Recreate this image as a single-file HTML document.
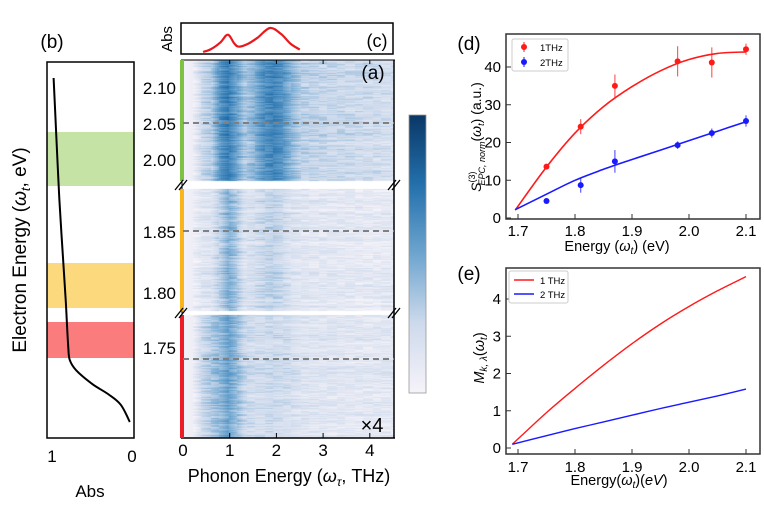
<!DOCTYPE html>
<html><head><meta charset="utf-8">
<style>
html,body{margin:0;padding:0;background:#fff;}
#wrap{position:relative;width:764px;height:515px;overflow:hidden;font-family:"Liberation Sans",sans-serif;}
svg{position:absolute;left:0;top:0;}
canvas{position:absolute;}
</style></head>
<body>
<div id="wrap">
<canvas id="heat" width="211" height="378" style="left:183px;top:60px;"></canvas>
<svg id="fig" width="764" height="515" viewBox="0 0 764 515" xmlns="http://www.w3.org/2000/svg"></svg>
</div>
<script>
// ---- Panel (d) data ----
const dEnergy1 = [1.75, 1.81, 1.87, 1.98, 2.04, 2.10];
const dVal1 = [13.6, 24.2, 35.0, 41.5, 41.2, 44.7];
const dErr1 = [0.5, 2.0, 3.0, 4.0, 4.0, 1.5];
const dVal2 = [4.5, 8.7, 15.0, 19.3, 22.5, 25.7];
const dErr2 = [0.3, 2.0, 3.0, 1.0, 1.2, 1.5];
const dFitX = [1.695, 1.75, 1.8, 1.85, 1.9, 1.95, 2.0, 2.05, 2.1];
const dFit1 = [2.1, 13.5, 22.5, 29.5, 34.8, 39.0, 42.0, 43.6, 44.0];
const dFit2 = [2.2, 6.3, 10.0, 12.9, 15.5, 18.0, 20.5, 23.0, 25.5];
const dTicksX = [1.7, 1.8, 1.9, 2.0, 2.1];
const dTicksY = [0, 10, 20, 30, 40];
// ---- Panel (e) data ----
const eX = [1.69, 1.75, 1.8, 1.85, 1.9, 1.95, 2.0, 2.05, 2.1];
const eRed = [0.1, 0.95, 1.6, 2.22, 2.8, 3.33, 3.8, 4.22, 4.6];
const eBlue = [0.1, 0.33, 0.52, 0.7, 0.88, 1.06, 1.23, 1.4, 1.58];
const eTicksY = [0, 1, 2, 3, 4];
// ---- Panel (c) absorption ----
const absTHz = [0.43, 0.6, 0.8, 0.96, 1.1, 1.2, 1.4, 1.6, 1.86, 2.1, 2.3, 2.5];
const absVal = [0.0, 0.12, 0.4, 0.72, 0.35, 0.22, 0.35, 0.6, 1.0, 0.75, 0.35, 0.1];
// ---- Panel (a) heatmap column profiles (THz grid) ----
const hGrid = [0, 0.2, 0.4, 0.6, 0.8, 0.95, 1.1, 1.3, 1.5, 1.7, 1.9, 2.1, 2.3, 2.5, 3.0, 3.5, 4.0, 4.5];
const hSeg1 = [0.02, 0.05, 0.25, 0.32, 0.6, 0.68, 0.55, 0.33, 0.42, 0.58, 0.65, 0.58, 0.42, 0.3, 0.26, 0.24, 0.22, 0.2];
const hSeg2 = [0.02, 0.05, 0.14, 0.16, 0.32, 0.45, 0.36, 0.17, 0.2, 0.25, 0.28, 0.24, 0.17, 0.14, 0.12, 0.11, 0.1, 0.1];
const hSeg3 = [0.02, 0.05, 0.26, 0.34, 0.42, 0.52, 0.42, 0.25, 0.22, 0.22, 0.24, 0.22, 0.2, 0.16, 0.14, 0.13, 0.12, 0.12];
const yLabels = ["2.10", "2.05", "2.00", "1.85", "1.80", "1.75"];
const xLabelsA = [0, 1, 2, 3, 4];
// ---- Panel (b) absorption curve ----
const bAbs = [0.98, 0.95, 0.91, 0.87, 0.83, 0.8, 0.78, 0.7, 0.5, 0.3, 0.15, 0.04];
const bPos = [0.0, 0.15, 0.35, 0.5, 0.65, 0.78, 0.82, 0.85, 0.89, 0.92, 0.95, 1.0];

const svg = document.getElementById('fig');
const NS = 'http://www.w3.org/2000/svg';
function el(tag, attrs, parent) {
  const e = document.createElementNS(NS, tag);
  for (const k in attrs) e.setAttribute(k, attrs[k]);
  (parent || svg).appendChild(e);
  return e;
}
function txt(x, y, s, size, anchor, parent, extra) {
  const t = el('text', Object.assign({x: x, y: y, 'font-size': size, 'text-anchor': anchor || 'middle', fill: '#000', 'font-family': 'Liberation Sans, DejaVu Sans, sans-serif'}, extra || {}), parent);
  t.textContent = s;
  return t;
}
function smooth(pts) {
  let d = 'M' + pts[0][0].toFixed(1) + ',' + pts[0][1].toFixed(1);
  for (let i = 0; i < pts.length - 1; i++) {
    const p0 = pts[i - 1] || pts[i], p1 = pts[i], p2 = pts[i + 1], p3 = pts[i + 2] || p2;
    const c1 = [p1[0] + (p2[0] - p0[0]) / 6, p1[1] + (p2[1] - p0[1]) / 6];
    const c2 = [p2[0] - (p3[0] - p1[0]) / 6, p2[1] - (p3[1] - p1[1]) / 6];
    d += 'C' + c1[0].toFixed(1) + ',' + c1[1].toFixed(1) + ' ' + c2[0].toFixed(1) + ',' + c2[1].toFixed(1) + ' ' + p2[0].toFixed(1) + ',' + p2[1].toFixed(1);
  }
  return d;
}
function poly(xs, ys, fx, fy) { return smooth(xs.map((x, i) => [fx(x), fy(ys[i])])); }

// ================= Panel (b) =================
const gb = el('g', {});


const bandG = el('rect', {x: 47, y: 132, width: 87, height: 54, fill: '#c5e3a4'}, gb);


const bandY = el('rect', {x: 47, y: 263, width: 87, height: 45, fill: '#fcd97c'}, gb);


const bandR = el('rect', {x: 47, y: 322, width: 87, height: 36, fill: '#fb7c7c'}, gb);


const xb = v => 133 - v * 81;
const yb = p => 78 + p * 344;
const bLine = el('path', {d: poly(bAbs, bPos, xb, yb).replace(/^M[^C]*/, m => m), fill: 'none', stroke: '#000', 'stroke-width': 2}, gb);
bLine.setAttribute('d', smooth(bAbs.map((a, i) => [xb(a), yb(bPos[i])])));


el('rect', {x: 47, y: 62, width: 87, height: 376, fill: 'none', stroke: '#000', 'stroke-width': 1.5}, gb);
txt(52, 462, '1', 17, 'middle', gb);
txt(132, 462, '0', 17, 'middle', gb);
txt(90, 497, 'Abs', 17, 'middle', gb);
txt(52, 48, '(b)', 19, 'middle', gb);
const ylab = txt(0, 0, '', 19, 'middle', gb, {transform: 'translate(26,250) rotate(-90)'});
ylab.innerHTML = 'Electron Energy (<tspan font-style="italic">ω</tspan><tspan font-size="13" dy="4" font-style="italic">t</tspan><tspan dy="-4">, eV)</tspan>';


// ================= Panel (c) =================
const gc = el('g', {});


el('rect', {x: 181, y: 23, width: 212, height: 31, fill: '#fff', stroke: '#000', 'stroke-width': 1.5}, gc);
const xa = v => 183 + v * 46.7;
const cLine = el('path', {d: poly(absTHz, absVal, xa, v => 52 - v * 24), fill: 'none', stroke: '#e8191c', 'stroke-width': 2.2, 'stroke-linejoin': 'round'}, gc);


txt(377, 47, '(c)', 18, 'middle', gc);
txt(0, 0, 'Abs', 15, 'middle', gc, {transform: 'translate(172,39) rotate(-90)'});

// ================= Panel (a) heatmap =================
function cmap(v) {
  const stops = [[0, [246, 243, 249]], [0.25, [205, 218, 236]], [0.5, [110, 165, 207]], [0.75, [35, 112, 172]], [1, [10, 55, 105]]];
  v = Math.max(0, Math.min(1, v));
  for (let i = 1; i < stops.length; i++) {
    if (v <= stops[i][0]) {
      const a = stops[i - 1], b = stops[i], f = (v - a[0]) / (b[0] - a[0]);
      return a[1].map((c, k) => Math.round(c + (b[1][k] - c) * f));
    }
  }
  return stops[stops.length - 1][1];
}
function interp(grid, vals, x) {
  if (x <= grid[0]) return vals[0];
  for (let i = 1; i < grid.length; i++) if (x <= grid[i]) { const f = (x - grid[i - 1]) / (grid[i] - grid[i - 1]); return vals[i - 1] + (vals[i] - vals[i - 1]) * f; }
  return vals[vals.length - 1];
}
function hash(a, b) { let h = (a * 374761393 + b * 668265263) | 0; h = (h ^ (h >>> 13)) * 1274126177; h = h ^ (h >>> 16); return ((h >>> 0) % 1000) / 1000; }
const ctx = document.getElementById('heat').getContext('2d');
const segs = [[0, 121, hSeg1], [129, 251, hSeg2], [255, 378, hSeg3]];
segs.forEach(([y0, y1, prof], si) => {
  for (let y = y0; y < y1; y += 1) {
    for (let x = 0; x < 211; x += 2) {
      const thz = x / 46.7;
      const base = interp(hGrid, prof, thz);
      const n = (hash(Math.floor(x / 9) + (y % 5), y + si * 1000) - 0.5) * 0.16 + (hash(0, y + si * 777) - 0.5) * 0.1;
      const c = cmap(base + (thz > 0.2 ? n : 0));
      ctx.fillStyle = 'rgb(' + c.join(',') + ')';
      ctx.fillRect(x, y, 2, 1);
    }
  }
});
const ga = el('g', {});


el('line', {x1: 182, y1: 60, x2: 182, y2: 438, stroke: '#000', 'stroke-width': 1}, ga);
el('line', {x1: 394, y1: 60, x2: 394, y2: 438, stroke: '#000', 'stroke-width': 1.5}, ga);
el('line', {x1: 181, y1: 438, x2: 395, y2: 438, stroke: '#000', 'stroke-width': 1.5}, ga);
el('line', {x1: 181, y1: 60, x2: 395, y2: 60, stroke: '#000', 'stroke-width': 1}, ga);
[[60, 181, '#7dc242'], [189, 311, '#f9b51b'], [315, 438, '#ee1c24']].forEach(([a, b, col], i) => {
  const r = el('rect', {x: 180, y: a, width: 4, height: b - a, fill: col}, ga);
  
  
});
[[181, 185], [394, 185], [181, 313], [394, 313]].forEach(([x, y]) => {
  el('line', {x1: x - 6, y1: y + 5, x2: x + 2, y2: y - 5, stroke: '#000', 'stroke-width': 1.3}, ga);
  el('line', {x1: x - 2, y1: y + 5, x2: x + 6, y2: y - 5, stroke: '#000', 'stroke-width': 1.3}, ga);
});
[123, 231, 359].forEach(y => {
  const l = el('line', {x1: 183, y1: y, x2: 394, y2: y, stroke: '#808080', 'stroke-width': 2, 'stroke-dasharray': '6,4'}, ga);
  
  
});
const yLabY = [94, 130, 166, 238, 299, 354];
yLabels.forEach((s, i) => txt(176, yLabY[i], s, 17, 'end', ga));
xLabelsA.forEach(v => {
  txt(xa(v), 456, String(v), 17, 'middle', ga);
  if (v > 0) {
    el('line', {x1: xa(v), y1: 438, x2: xa(v), y2: 433, stroke: '#000'}, ga);
    el('line', {x1: xa(v), y1: 60, x2: xa(v), y2: 64, stroke: '#000'}, ga);
  }
});
const xat = txt(289, 482, '', 18, 'middle', ga);
xat.innerHTML = 'Phonon Energy (<tspan font-style="italic">ω</tspan><tspan font-size="12" dy="4" font-style="italic">τ</tspan><tspan dy="-4">, THz)</tspan>';

txt(373, 79, '(a)', 19, 'middle', ga);
txt(372, 432, '×4', 20, 'middle', ga);
const defs = el('defs', {});
const lg = el('linearGradient', {id: 'cb', x1: 0, y1: 0, x2: 0, y2: 1}, defs);
[[0, '#0a3766'], [0.25, '#2370ac'], [0.5, '#6ea5cf'], [0.75, '#cddaec'], [1, '#f6f3f9']].forEach(([o, c]) => el('stop', {offset: o, 'stop-color': c}, lg));
const cb = el('rect', {x: 409, y: 115, width: 17, height: 278, fill: 'url(#cb)', stroke: '#999', 'stroke-width': 0.8});



// ================= Panel (d) =================
const gd = el('g', {});


const xd = v => 518 + (v - 1.7) * 570;
const yd = v => 218 - v * 3.775;
el('rect', {x: 506, y: 34, width: 254, height: 185, fill: 'none', stroke: '#333', 'stroke-width': 1.5}, gd);
dTicksX.forEach(v => { el('line', {x1: xd(v), y1: 219, x2: xd(v), y2: 214, stroke: '#333'}, gd); txt(xd(v), 236, v.toFixed(1), 15, 'middle', gd); });
dTicksY.forEach(v => { el('line', {x1: 506, y1: yd(v), x2: 511, y2: yd(v), stroke: '#333'}, gd); txt(501, yd(v) + 5, String(v), 15, 'end', gd); });
const f1 = el('path', {d: poly(dFitX, dFit1, xd, yd), fill: 'none', stroke: '#ff1a1a', 'stroke-width': 1.6}, gd);


const f2 = el('path', {d: poly(dFitX, dFit2, xd, yd), fill: 'none', stroke: '#1a1aff', 'stroke-width': 1.6}, gd);


function points(vals, errs, col, name) {
  dEnergy1.forEach((e, i) => {
    const eb = el('line', {x1: xd(e), y1: yd(vals[i] - errs[i]), x2: xd(e), y2: yd(vals[i] + errs[i]), stroke: col, 'stroke-width': 1.2, opacity: 0.7}, gd);
    
    
    const c = el('circle', {cx: xd(e), cy: yd(vals[i]), r: 3, fill: col}, gd);
    
    
  });
}
points(dVal1, dErr1, '#ff1a1a', 'series-1thz');
points(dVal2, dErr2, '#1a1aff', 'series-2thz');
const legd = el('g', {}, gd);


el('rect', {x: 512, y: 39, width: 56, height: 32, fill: '#fff', stroke: '#ccc', rx: 2}, legd);
el('line', {x1: 524, y1: 42, x2: 524, y2: 52, stroke: '#ff1a1a'}, legd);
el('circle', {cx: 524, cy: 47, r: 3, fill: '#ff1a1a'}, legd);
txt(540, 51, '1THz', 9.5, 'start', legd);
el('line', {x1: 524, y1: 57, x2: 524, y2: 67, stroke: '#1a1aff'}, legd);
el('circle', {cx: 524, cy: 62, r: 3, fill: '#1a1aff'}, legd);
txt(540, 66, '2THz', 9.5, 'start', legd);
txt(469, 50, '(d)', 19, 'middle', gd);
txt(617, 251, '', 14.5, 'middle', gd).innerHTML = 'Energy (<tspan font-style="italic">ω</tspan><tspan font-size="10" dy="3" font-style="italic">t</tspan><tspan dy="-3">) (eV)</tspan>';
const dyl = txt(0, 0, '', 14, 'middle', gd, {transform: 'translate(481,137) rotate(-90)'});
dyl.innerHTML = '<tspan font-style="italic">S</tspan><tspan font-size="9" dy="-6">(3)</tspan><tspan font-size="9" dy="10" dx="-14" font-style="italic">EPC, norm</tspan><tspan dy="-4">(</tspan><tspan font-style="italic">ω</tspan><tspan font-size="9" dy="3" font-style="italic">t</tspan><tspan dy="-3">) (a.u.)</tspan>';


// ================= Panel (e) =================
const ge = el('g', {});


const ye = v => 448 - v * 37.25;
el('rect', {x: 506, y: 268, width: 254, height: 186, fill: 'none', stroke: '#333', 'stroke-width': 1.5}, ge);
dTicksX.forEach(v => { el('line', {x1: xd(v), y1: 454, x2: xd(v), y2: 449, stroke: '#333'}, ge); txt(xd(v), 472, v.toFixed(1), 15, 'middle', ge); });
eTicksY.forEach(v => { el('line', {x1: 506, y1: ye(v), x2: 511, y2: ye(v), stroke: '#333'}, ge); txt(501, ye(v) + 5, String(v), 15, 'end', ge); });
const er = el('path', {d: poly(eX, eRed, xd, ye), fill: 'none', stroke: '#ff1a1a', 'stroke-width': 1.4}, ge);


const eb2 = el('path', {d: poly(eX, eBlue, xd, ye), fill: 'none', stroke: '#1a1aff', 'stroke-width': 1.4}, ge);


const lege = el('g', {}, ge);


el('rect', {x: 509, y: 271, width: 59, height: 32, fill: '#fff', stroke: '#ccc', rx: 2}, lege);
el('line', {x1: 514, y1: 280, x2: 534, y2: 280, stroke: '#ff1a1a', 'stroke-width': 1.4}, lege);
txt(540, 284, '1 THz', 9.5, 'start', lege);
el('line', {x1: 514, y1: 294, x2: 534, y2: 294, stroke: '#1a1aff', 'stroke-width': 1.4}, lege);
txt(540, 298, '2 THz', 9.5, 'start', lege);
txt(469, 280, '(e)', 19, 'middle', ge);
txt(619, 485, '', 14.5, 'middle', ge).innerHTML = 'Energy(<tspan font-style="italic">ω</tspan><tspan font-size="10" dy="3" font-style="italic">t</tspan><tspan dy="-3">)(</tspan><tspan font-style="italic">eV</tspan>)';
const eyl = txt(0, 0, '', 14.5, 'middle', ge, {transform: 'translate(484,358) rotate(-90)'});
eyl.innerHTML = '<tspan font-style="italic">M</tspan><tspan font-size="10" dy="3" font-style="italic">k, λ</tspan><tspan dy="-3">(</tspan><tspan font-style="italic">ω</tspan><tspan font-size="10" dy="3" font-style="italic">t</tspan><tspan dy="-3">)</tspan>';

</script>
</body></html>
